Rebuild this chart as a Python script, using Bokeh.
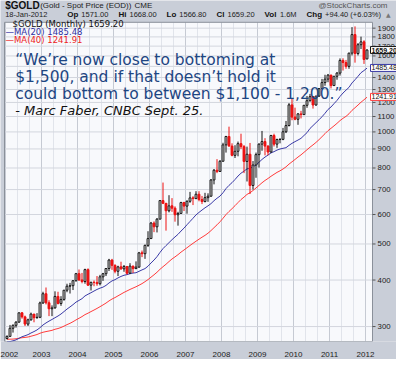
import numpy as np
import pandas as pd
from bokeh.plotting import figure
from bokeh.models import FixedTicker, Label, Range1d, ColumnDataSource
from bokeh.core.properties import value
from bokeh.embed import file_html
from bokeh.resources import INLINE

# ---------------- data (monthly $GOLD, Jan 2002 .. Jan 2012) ----------------
year_labels = ["2002", "2003", "2004", "2005", "2006", "2007", "2008", "2009", "2010", "2011", "2012"]
price_ticks = [300, 400, 500, 600, 700, 800, 900, 1000, 1100, 1200, 1300, 1400, 1500, 1600, 1700, 1800, 1900]
price_tick_labels = [str(t) for t in price_ticks]

# closes before 2002 (Sep 1998 .. Dec 2001), only used to seed the moving averages
warmup_close = [294, 292, 294, 288,
                287, 287, 280, 286, 268, 261, 255, 255, 299, 299, 292, 290,
                283, 293, 278, 275, 272, 288, 276, 277, 273, 264, 269, 274,
                265, 267, 258, 264, 267, 271, 266, 273, 293, 279, 275, 277]

opens = [278.7, 282.3, 296.8, 302.3, 308.3, 326.6, 318.5, 304.6, 312.8, 324.0, 316.9, 317.7,
         347.2, 367.5, 347.5, 334.9, 336.8, 361.4, 346.0, 354.8, 375.6, 385.0, 386.3, 398.4,
         416.1, 400.2, 396.4, 426.6, 387.5, 394.3, 394.1, 391.1, 408.1, 416.0, 429.6, 452.6,
         438.0, 422.3, 434.0, 428.7, 435.0, 417.3, 436.0, 429.3, 433.3, 473.3, 470.8, 495.7,
         517.0, 569.0, 556.0, 583.0, 654.0, 643.0, 614.0, 633.0, 624.0, 599.0, 604.0, 646.0,
         632, 651, 665, 662, 680, 658, 650, 666, 672, 743, 789, 783,
         834, 923, 972, 916, 865, 887, 930, 913, 833, 871, 718, 815,
         869, 927, 942, 916, 883, 978, 927, 954, 955, 1001, 1040, 1182,
         1096, 1081, 1118, 1113, 1179, 1213, 1244, 1181, 1248, 1307, 1357, 1386,
         1421, 1332, 1411, 1439, 1556, 1536, 1500, 1628, 1826, 1624, 1715, 1746,
         1571.0]
highs = [284, 303, 304, 310, 327, 328, 321, 315, 327, 324, 326, 350,
         372, 382, 353, 342, 373, 372, 362, 376, 391, 393, 400, 418,
         427, 418, 429, 430, 396, 399, 410, 413, 418, 430, 456, 456,
         441, 437, 448, 439, 436, 444, 437, 449, 476, 480, 498, 541,
         573, 575, 587, 655, 731, 643, 676, 664, 631, 610, 649, 649,
         655, 690, 672, 693, 693, 673, 686, 684, 747, 795, 845, 840,
         935, 976, 1033, 932, 921, 942, 989, 922, 913, 934, 835, 880,
         932, 1006, 962, 921, 982, 989, 959, 962, 1025, 1070, 1195, 1227,
         1162, 1123, 1139, 1181, 1249, 1265, 1247, 1250, 1311, 1388, 1424, 1431,
         1424, 1412, 1448, 1576, 1577, 1561, 1632, 1912, 1921, 1733, 1803, 1763,
         1668.0]
lows = [277, 282, 289, 298, 307, 315, 301, 301, 311, 308, 315, 316,
        345, 344, 320, 320, 335, 344, 341, 352, 371, 368, 376, 396,
        398, 392, 391, 386, 375, 385, 386, 387, 398, 410, 423, 426,
        417, 410, 426, 421, 414, 415, 418, 428, 432, 461, 456, 491,
        516, 538, 537, 583, 640, 543, 608, 610, 574, 560, 604, 613,
        603, 645, 636, 660, 651, 640, 647, 649, 670, 723, 775, 781,
        834, 880, 914, 860, 851, 860, 900, 775, 736, 681, 700, 753,
        802, 890, 865, 866, 880, 914, 906, 932, 950, 993, 1035, 1075,
        1075, 1045, 1087, 1111, 1161, 1206, 1155, 1176, 1242, 1307, 1331, 1360,
        1309, 1330, 1381, 1417, 1462, 1478, 1478, 1605, 1535, 1605, 1670, 1523,
        1566.8]
closes = [282.3, 296.8, 302.3, 308.3, 326.6, 318.5, 304.6, 312.8, 324.0, 316.9, 317.7, 347.2,
          367.5, 347.5, 334.9, 336.8, 361.4, 346.0, 354.8, 375.6, 385.0, 386.3, 398.4, 416.1,
          400.2, 396.4, 426.6, 387.5, 394.3, 394.1, 391.1, 408.1, 416.0, 429.6, 452.6, 438.0,
          422.3, 434.0, 428.7, 435.0, 417.3, 436.0, 429.3, 433.3, 473.3, 470.8, 495.7, 517.0,
          569.0, 556.0, 583.0, 654.0, 643.0, 614.0, 633.0, 624.0, 599.0, 604.0, 646.0, 632.0,
          651, 665, 662, 680, 658, 650, 666, 672, 743, 789, 783, 834,
          923, 972, 916, 865, 887, 930, 913, 833, 871, 718, 815, 869,
          927, 942, 916, 883, 978, 927, 954, 955, 1001, 1040, 1182, 1096,
          1081, 1118, 1113, 1179, 1213, 1244, 1181, 1248, 1307, 1357, 1386, 1421,
          1332, 1411, 1439, 1556, 1536, 1500, 1628, 1826, 1624, 1715, 1746, 1565,
          1659.2]
last_values = [1659.20, 1485.48, 1241.91]
last_texts = ["1659.20", "1485.48", "1241.91"]

# ---------------- derived ----------------
n = len(closes)
xs = np.arange(n) + 0.5
o = np.array(opens, float); h = np.array(highs, float)
l = np.array(lows, float); c = np.array(closes, float)
prev = np.concatenate([[warmup_close[-1]], c[:-1]])
col = np.where(c >= prev, "#111111", "#ee1111")
fill = np.where(c > o, "#ffffff", col)
full = pd.Series(list(warmup_close) + list(closes), dtype=float)
ma20 = full.rolling(20).mean().to_numpy()[-n:]
ma40 = full.rolling(40).mean().to_numpy()[-n:]
src = ColumnDataSource(dict(x=xs, o=o, h=h, l=l, c=c, top=np.maximum(o, c), bot=np.minimum(o, c),
                            col=col, fill=fill, ma20=ma20, ma40=ma40))

# ---------------- layout (pixels inside the 396x359 canvas) ----------------
W, H, BB = 396, 359, 15
FH = H - BB                      # frame covers the canvas above the x axis
PX_M = 3.0                       # pixels per month
M0 = 5.0                         # canvas x of Jan 2002
IN_L, IN_R, IN_T = 4.0, 372.0, 22.0   # inner chart box (canvas px)
X0, X1 = (IN_L - M0) / PX_M, (IN_R - M0) / PX_M
Y0, Y1 = 273.5, 1970.0           # inner price range
ppd = (FH - IN_T) / np.log10(Y1 / Y0)
Ytop = 10 ** (np.log10(Y1) + IN_T / ppd)

GRAY = "#c9ced8"
p = figure(width=W, height=H, y_axis_type="log", y_axis_location=None,
           x_range=Range1d(-M0 / PX_M, (W - M0) / PX_M), y_range=Range1d(Y0, Ytop),
           output_backend="svg", toolbar_location=None,
           min_border_left=0, min_border_right=0, min_border_top=0, min_border_bottom=BB,
           background_fill_color=GRAY, border_fill_color=GRAY, outline_line_color=None)
p.grid.visible = False

# x axis (real axis, below)
xt = FixedTicker(ticks=[12 * i for i in range(len(year_labels))])
p.xaxis.ticker = xt
p.xaxis.major_label_overrides = {12 * i: s for i, s in enumerate(year_labels)}
p.xaxis.axis_line_color = None
p.xaxis.major_tick_line_color = None
p.xaxis.minor_tick_line_color = None
p.xaxis.major_label_standoff = 4
p.xaxis.major_label_text_font = "Liberation Sans"
p.xaxis.major_label_text_font_size = "8px"
p.xaxis.major_label_text_color = "#222222"

# inner chart box
p.quad(left=[X0], right=[X1], bottom=[Y0], top=[Y1], fill_color="#f8f9fc", line_color=None)
minor_x = [m for m in range(0, 123, 4) if m % 12 != 0]
major_x = [12 * i for i in range(len(year_labels))]
p.segment(x0=minor_x, y0=Y0, x1=minor_x, y1=Y1, line_color="#e1e4eb", line_width=1)
p.segment(x0=major_x, y0=Y0, x1=major_x, y1=Y1, line_color="#c6cad3", line_width=1)
p.segment(x0=X0, y0=price_ticks, x1=X1, y1=price_ticks, line_color="#d3d6de", line_width=1)
p.quad(left=[X0], right=[X1], bottom=[Y0], top=[Y1], fill_color=None, line_color="#8a909a")

# price axis (right)
p.segment(x0=X1, y0=price_ticks, x1=X1 + 1.0, y1=price_ticks, line_color="#555555")
p.text(x=X1 + 1.7, y=price_ticks, text=price_tick_labels, text_font=value("Liberation Sans"),
       text_font_size="7.8px", text_color="#222222", text_baseline="middle", text_align="left")

# moving averages
p.line("x", "ma40", source=src, line_color="#ff3b3b", line_width=1)
p.line("x", "ma20", source=src, line_color="#3a3aa6", line_width=1)

# candles
p.segment(x0="x", y0="l", x1="x", y1="h", source=src, line_color="col", line_width=1)
p.vbar(x="x", width=0.62, top="top", bottom="bot", source=src,
       fill_color="fill", line_color="col", line_width=1)


def lab(x, y, text, size="7px", color="#000000", font="Liberation Sans", style="normal",
        align="left", yu="screen", **kw):
    p.add_layout(Label(x=x, y=y, x_units="screen", y_units=yu, text=text, text_font=font,
                       text_font_size=size, text_color=color, text_font_style=style,
                       text_align=align, text_baseline="middle", **kw))


# header (canvas x, y measured up from the frame bottom)
y1, y2 = FH - 7.5, FH - 16.5
lab(4.7, y1, "$GOLD", size="10px", style="bold", color="#111111")
lab(39.7, y1, "(Gold - Spot Price (EOD))", size="8px", color="#222222")
lab(134, y1, "CME", size="8px", color="#222222")
lab(387, y1, "@StockCharts.com", size="8px", color="#555555", align="right")
lab(4.7, y2, "18-Jan-2012", size="7.5px", color="#222222")
for bx, bold, vx, val in [(66.7, "Op", 80.8, "1571.00"), (118, "Hi", 129, "1668.00"),
                          (166, "Lo", 178.8, "1566.80"), (216, "Cl", 227, "1659.20"),
                          (264, "Vol", 279.4, "1.6M"), (306, "Chg", 324.6, "+94.40 (+6.03%)")]:
    lab(bx, y2, bold, size="8px", style="bold", color="#111111")
    lab(vx, y2, val, size="7.5px", color="#222222")
lab(385.5, y2, "▲", size="6px", color="#777777", font="DejaVu Sans")

# legend inside the chart
lab(12, FH - 26.7, "$GOLD (Monthly) 1659.20", size="8.5px", font="DejaVu Sans", color="#111111")
lab(5, FH - 34.3, "—MA(20) 1485.48", size="8.5px", font="DejaVu Sans", color="#2e2ea0")
lab(5, FH - 42.7, "—MA(40) 1241.91", size="8.5px", font="DejaVu Sans", color="#ee2222")

# quote
navy = "#1e4682"
lab(14.7, FH - 62.0, "“We’re now close to bottoming at", size="15.5px", font="DejaVu Sans", color=navy)
lab(14.7, FH - 79.0, "$1,500, and if that doesn’t hold it", size="15.5px", font="DejaVu Sans", color=navy)
lab(14.7, FH - 96.0, "could bottom to between $1,100 - 1,200.”", size="15.5px", font="DejaVu Sans", color=navy)
lab(14.7, FH - 113.0, "- Marc Faber, CNBC Sept. 25.", size="13px", font="DejaVu Sans",
    style="italic", color="#111111")

# last-value boxes on the price axis
for val, txt, bc, st in zip(last_values, last_texts, ["#111111", "#3a3aa6", "#ff3b3b"],
                            ["bold", "normal", "normal"]):
    lab(370, val, txt, size="7px", color="#111111", style=st, yu="data",
        background_fill_color="#ffffff", border_line_color=bc, border_line_width=1, padding=1)

open("out.html", "w").write(file_html(p, INLINE))
